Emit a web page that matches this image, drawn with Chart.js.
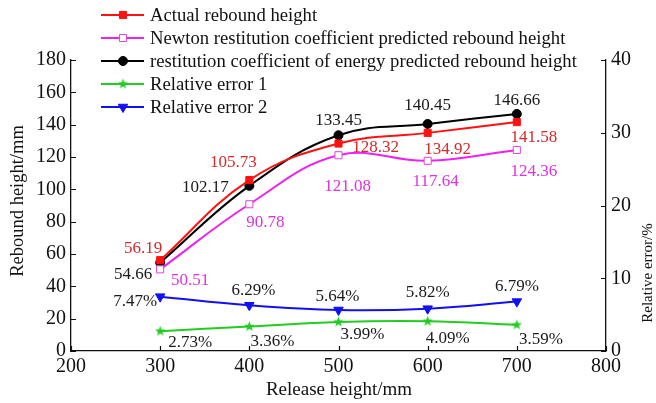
<!DOCTYPE html>
<html>
<head>
<meta charset="utf-8">
<script src="https://cdn.jsdelivr.net/npm/chart.js@4.4.1/dist/chart.umd.min.js"></script>
<style>
  html, body { margin: 0; padding: 0; background: #ffffff; }
  #wrap { width: 656px; height: 403px; position: relative; }
</style>
</head>
<body>
<div id="wrap"><canvas id="c" width="656" height="403"></canvas></div>
<script>
// ---- data ----
const releaseHeights = [300, 400, 500, 600, 700];
const actualHeight  = [56.19, 105.73, 128.32, 134.92, 141.58];
const newtonHeight  = [50.51, 90.78, 121.08, 117.64, 124.36];
const energyHeight  = [54.66, 102.17, 133.45, 140.45, 146.66];
const relError1     = [2.73, 3.36, 3.99, 4.09, 3.59];
const relError2     = [7.47, 6.29, 5.64, 5.82, 6.79];
const xTickValues      = [200, 300, 400, 500, 600, 700, 800];
const leftTickValues   = [0, 20, 40, 60, 80, 100, 120, 140, 160, 180];
const rightTickValues  = [0, 10, 20, 30, 40];
const seriesNames = [
  'Actual rebound height',
  'Newton restitution coefficient predicted rebound height',
  'restitution coefficient of energy predicted rebound height',
  'Relative error 1',
  'Relative error 2'
];

// label offsets (styling): dx, dy of label centre from its point
const labelOffsets = [
  [[-17,-12],[-16,-18],[37,4],[20,17],[17,15]],
  [[30,11],[16,18],[9,31],[8,21],[17,22]],
  [[-27,12],[-44,2],[0,-15],[0,-18],[0,-13]],
  [[30,11],[23,15],[24,13],[20,17],[24,15]],
  [[-25,5],[4,-15],[-1,-13],[0,-16],[0,-15]]
];
const labelColors = ['#d42a2a', '#dd33dd', '#1a1a1a', '#1a1a1a', '#1a1a1a'];
const labelSuffix = ['', '', '', '%', '%'];

const SERIF = "'Liberation Serif', 'Times New Roman', 'DejaVu Serif', serif";

function starCanvas(color, r) {
  const c = document.createElement('canvas');
  const s = Math.ceil(r * 2 + 2);
  c.width = s; c.height = s;
  const g = c.getContext('2d');
  g.fillStyle = color;
  g.beginPath();
  for (let i = 0; i < 10; i++) {
    const rad = i % 2 === 0 ? r : r * 0.42;
    const a = -Math.PI / 2 + i * Math.PI / 5;
    const x = s / 2 + rad * Math.cos(a), y = s / 2 + rad * Math.sin(a);
    if (i === 0) g.moveTo(x, y); else g.lineTo(x, y);
  }
  g.closePath();
  g.fill();
  return c;
}
const greenStar = starCanvas('#22cc22', 5.5);

function toXY(ys) { return releaseHeights.map((x, i) => ({ x: x, y: ys[i] })); }

const datasets = [
  { label: seriesNames[0], data: toXY(actualHeight), yAxisID: 'y', borderColor: '#ff1111', backgroundColor: '#ff1111',
    pointStyle: 'rect', pointRadius: 5, pointBorderWidth: 1, pointBackgroundColor: '#ff1111', pointBorderColor: '#ff1111' },
  { label: seriesNames[1], data: toXY(newtonHeight), yAxisID: 'y', borderColor: '#ee22ee', backgroundColor: '#ffffff',
    pointStyle: 'rect', pointRadius: 5, pointBorderWidth: 1, pointBackgroundColor: '#ffffff', pointBorderColor: '#dd44dd' },
  { label: seriesNames[2], data: toXY(energyHeight), yAxisID: 'y', borderColor: '#000000', backgroundColor: '#000000',
    pointStyle: 'circle', pointRadius: 4.5, pointBorderWidth: 1, pointBackgroundColor: '#000000', pointBorderColor: '#000000' },
  { label: seriesNames[3], data: toXY(relError1), yAxisID: 'y1', borderColor: '#22cc22', backgroundColor: '#22cc22',
    pointStyle: greenStar, pointRadius: 5 },
  { label: seriesNames[4], data: toXY(relError2), yAxisID: 'y1', borderColor: '#1111ee', backgroundColor: '#1111ee',
    pointStyle: 'triangle', rotation: 180, pointRadius: 5.5, pointBorderWidth: 1, pointBackgroundColor: '#1111ee', pointBorderColor: '#1111ee' }
];
datasets.forEach(d => { d.borderWidth = 2; d.tension = 0.4; d.fill = false; d.clip = false; });

const decorPlugin = {
  id: 'decor',
  afterDatasetsDraw(chart) {
    const ctx = chart.ctx;
    // data labels
    ctx.save();
    ctx.font = '17px ' + SERIF;
    ctx.textAlign = 'center';
    ctx.textBaseline = 'middle';
    chart.data.datasets.forEach((ds, di) => {
      const meta = chart.getDatasetMeta(di);
      meta.data.forEach((pt, i) => {
        const v = ds.data[i].y;
        const off = labelOffsets[di][i];
        ctx.fillStyle = labelColors[di];
        ctx.fillText(v.toFixed(2) + labelSuffix[di], pt.x + off[0], pt.y + off[1]);
      });
    });
    ctx.restore();
  },
  afterDraw(chart) {
    const ctx = chart.ctx;
    const a = chart.chartArea;
    const sx = chart.scales.x, sy = chart.scales.y, sy1 = chart.scales.y1;
    ctx.save();
    ctx.strokeStyle = '#111';
    ctx.lineWidth = 1.2;
    const TL = 5;
    ctx.beginPath();
    xTickValues.forEach(v => { const p = Math.round(sx.getPixelForValue(v)) + 0.5; ctx.moveTo(p, a.bottom); ctx.lineTo(p, a.bottom - TL); });
    leftTickValues.forEach(v => { const p = Math.round(sy.getPixelForValue(v)) + 0.5; ctx.moveTo(a.left, p); ctx.lineTo(a.left + TL, p); });
    rightTickValues.forEach(v => { const p = Math.round(sy1.getPixelForValue(v)) + 0.5; ctx.moveTo(a.right, p); ctx.lineTo(a.right - TL, p); });
    ctx.stroke();

    // axis titles
    ctx.fillStyle = '#111';
    ctx.textAlign = 'center';
    ctx.textBaseline = 'middle';
    ctx.font = '19px ' + SERIF;
    ctx.fillText('Release height/mm', 339, 390);
    ctx.font = '18.5px ' + SERIF;
    ctx.save();
    ctx.translate(18, 201);
    ctx.rotate(-Math.PI / 2);
    ctx.fillText('Rebound height/mm', 0, 0);
    ctx.restore();
    ctx.font = '15px ' + SERIF;
    ctx.save();
    ctx.translate(648, 273);
    ctx.rotate(-Math.PI / 2);
    ctx.fillText('Relative error/%', 0, 0);
    ctx.restore();

    // legend
    const rows = [15, 38, 61, 84, 107];
    ctx.font = '18.7px ' + SERIF;
    ctx.textAlign = 'left';
    chart.data.datasets.forEach((ds, di) => {
      const y = rows[di];
      ctx.strokeStyle = ds.borderColor;
      ctx.lineWidth = 2;
      ctx.beginPath();
      ctx.moveTo(101, y); ctx.lineTo(144, y);
      ctx.stroke();
      const opts = {
        pointStyle: ds.pointStyle, radius: ds.pointRadius, rotation: ds.rotation || 0,
        borderWidth: ds.pointBorderWidth || 1
      };
      ctx.fillStyle = ds.pointBackgroundColor || ds.backgroundColor;
      ctx.strokeStyle = ds.pointBorderColor || ds.borderColor;
      ctx.lineWidth = opts.borderWidth;
      Chart.helpers.drawPoint(ctx, opts, 123, y);
      ctx.fillStyle = '#111';
      ctx.fillText(ds.label, 150, y + 1);
    });
    ctx.restore();
  }
};

new Chart(document.getElementById('c'), {
  type: 'line',
  data: { datasets: datasets },
  options: {
    responsive: false,
    animation: false,
    devicePixelRatio: 1,
    layout: { padding: { top: 60, left: 0, right: 0, bottom: 0 } },
    plugins: { legend: { display: false }, tooltip: { enabled: false } },
    scales: {
      x: {
        type: 'linear', min: 200, max: 800,
        afterBuildTicks: s => { s.ticks = xTickValues.map(v => ({ value: v })); },
        afterFit: s => { s.height = 52; },
        grid: { display: false, drawTicks: false },
        border: { display: true, color: '#111', width: 1.3 },
        ticks: { color: '#111', font: { family: SERIF, size: 20 }, padding: 4, maxRotation: 0, autoSkip: false }
      },
      y: {
        type: 'linear', position: 'left', min: 0, max: 180,
        afterBuildTicks: s => { s.ticks = leftTickValues.map(v => ({ value: v })); },
        afterFit: s => { s.width = 71; },
        grid: { display: false, drawTicks: false },
        border: { display: true, color: '#111', width: 1.3 },
        ticks: { color: '#111', font: { family: SERIF, size: 20 }, padding: 5, autoSkip: false }
      },
      y1: {
        type: 'linear', position: 'right', min: 0, max: 40,
        afterBuildTicks: s => { s.ticks = rightTickValues.map(v => ({ value: v })); },
        afterFit: s => { s.width = 50; },
        grid: { display: false, drawTicks: false },
        border: { display: true, color: '#111', width: 1.3 },
        ticks: { color: '#111', font: { family: SERIF, size: 20 }, padding: 5, autoSkip: false }
      }
    }
  },
  plugins: [decorPlugin]
});
</script>
</body>
</html>
